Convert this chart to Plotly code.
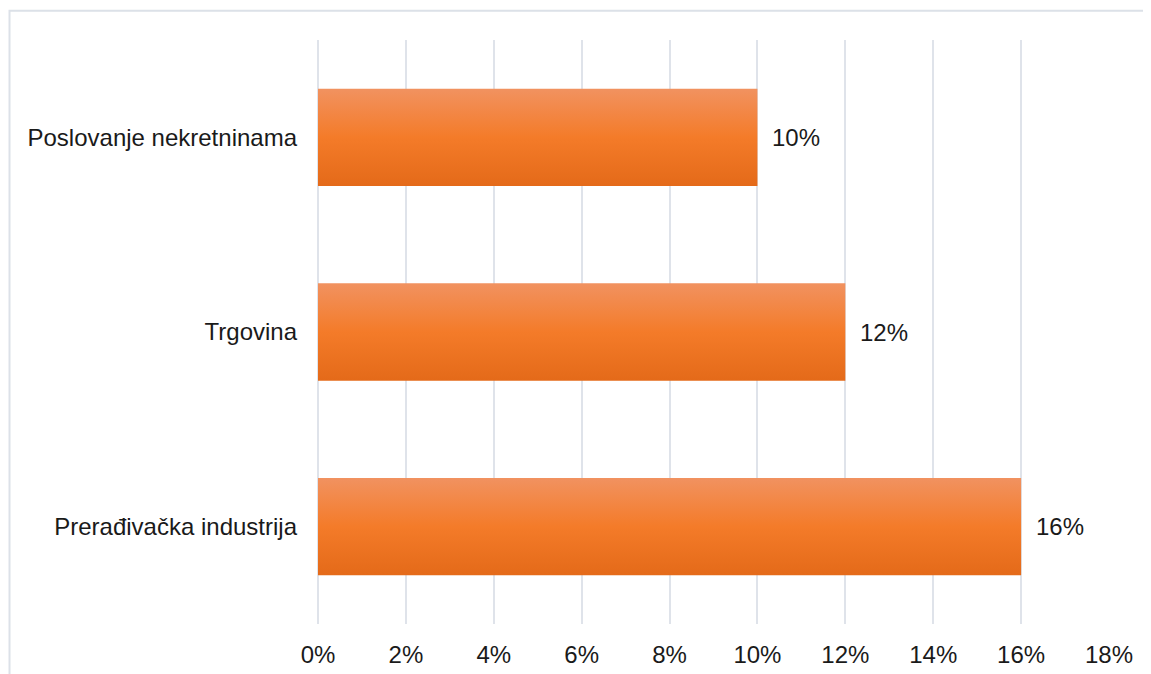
import plotly.graph_objects as go

categories = ["Poslovanje nekretninama", "Trgovina", "Prerađivačka industrija"]
shares = [0.10, 0.12, 0.16]
labels = ["10%", "12%", "16%"]
tick_vals = [0, 0.02, 0.04, 0.06, 0.08, 0.10, 0.12, 0.14, 0.16, 0.18]
tick_text = ["0%", "2%", "4%", "6%", "8%", "10%", "12%", "14%", "16%", "18%"]

FONT = "Liberation Sans, Arial, sans-serif"
GRID = "#DFE3EA"
half = 0.25  # half of bar thickness in category units

fig = go.Figure()

# bars drawn as filled polygons so they can carry a vertical gradient
for i, (cat, v) in enumerate(zip(categories, shares)):
    fig.add_trace(go.Scatter(
        x=[0, v, v, 0, 0],
        y=[i - half, i - half, i + half, i + half, i - half],
        mode="lines",
        line=dict(width=0),
        fill="toself",
        fillgradient=dict(
            type="vertical",
            colorscale=[[0, "#F19260"], [0.5, "#F47B29"], [1, "#E46A19"]],
            start=i - half,
            stop=i + half,
        ),
        hoverinfo="skip",
        name=cat,
        showlegend=False,
    ))

for i, (v, t) in enumerate(zip(shares, labels)):
    fig.add_annotation(
        x=v, y=i, text=t, showarrow=False,
        xanchor="left", xshift=13,
        font=dict(family=FONT, size=24, color="#1a1a1a"),
    )

# outer chart frame (extends past the window on right / bottom)
fig.add_shape(
    type="rect", xref="paper", yref="paper",
    x0=-0.39, x1=1.2, y0=-0.3, y1=1.05,
    line=dict(color="#DCE1E8", width=2), layer="below",
)

fig.update_layout(
    width=1143, height=666,
    margin=dict(l=310, r=42, t=32, b=50),
    paper_bgcolor="white",
    plot_bgcolor="white",
    font=dict(family=FONT, size=24, color="#1a1a1a"),
    xaxis=dict(
        range=[0, 0.18],
        tickvals=tick_vals,
        ticktext=tick_text,
        showgrid=True,
        gridcolor=GRID,
        gridwidth=2,
        zeroline=True,
        zerolinecolor=GRID,
        zerolinewidth=2,
        showline=False,
        ticks="",
        ticklabelstandoff=14,
        automargin=False,
    ),
    yaxis=dict(
        range=[2.5, -0.5],
        tickvals=[0, 1, 2],
        ticktext=categories,
        showgrid=False,
        zeroline=False,
        showline=False,
        ticks="",
        ticklabelstandoff=20,
        automargin=False,
    ),
)

fig.write_html("out.html")
